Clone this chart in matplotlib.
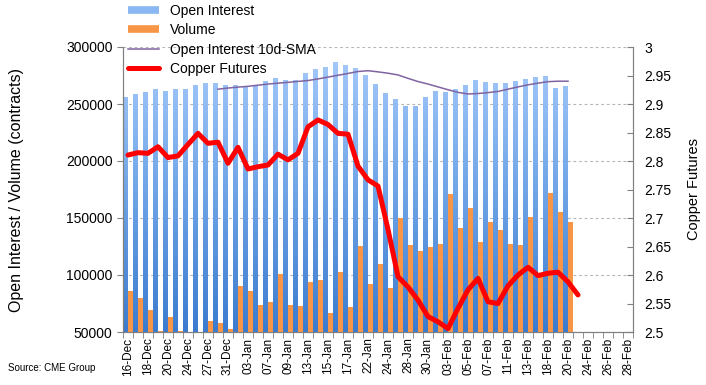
import numpy as np
import matplotlib
matplotlib.use("Agg")
import matplotlib.pyplot as plt
from matplotlib.lines import Line2D
from matplotlib.path import Path
from matplotlib.patches import PathPatch
from matplotlib.colors import LinearSegmentedColormap
from matplotlib.ticker import FuncFormatter

plt.rcParams['font.family'] = ['Liberation Sans', 'DejaVu Sans']

# trading days shown on the x axis
dates = ['16-Dec', '17-Dec', '18-Dec', '19-Dec', '20-Dec', '23-Dec', '24-Dec', '26-Dec', '27-Dec',
         '30-Dec', '31-Dec', '02-Jan', '03-Jan', '06-Jan', '07-Jan', '08-Jan', '09-Jan', '10-Jan',
         '13-Jan', '14-Jan', '15-Jan', '16-Jan', '17-Jan', '21-Jan', '22-Jan', '23-Jan', '24-Jan',
         '27-Jan', '28-Jan', '29-Jan', '30-Jan', '31-Jan', '03-Feb', '04-Feb', '05-Feb', '06-Feb',
         '07-Feb', '10-Feb', '11-Feb', '12-Feb', '13-Feb', '14-Feb', '18-Feb', '19-Feb', '20-Feb',
         '21-Feb', '24-Feb', '25-Feb', '26-Feb', '27-Feb', '28-Feb']

open_interest = [256100, 258800, 260500, 263200, 261400, 263200, 263200, 266700, 268400, 268400,
                 266700, 266700, 264900, 266700, 270200, 272800, 271000, 271000, 277200, 280700,
                 282500, 286800, 284200, 281600, 275500, 267500, 259600, 254400, 248300, 248300,
                 256100, 261400, 260500, 263200, 266700, 271000, 269300, 268400, 268400, 270200,
                 271900, 273700, 274600, 264000, 265800]

volume = [86000, 79800, 69300, 50900, 63200, 50900, 45000, 45000, 59600, 57900,
          52600, 90400, 86000, 73700, 76300, 100900, 73700, 72800, 93900, 95600,
          66700, 102600, 71900, 125400, 92100, 109600, 88600, 150000, 126300, 121100,
          124600, 127200, 171100, 141200, 158800, 128900, 146500, 139500, 127200, 126300,
          150900, 101000, 172000, 155300, 146500]

# 10d-SMA starts at the 10th session (31-Dec)
sma_start = 9
oi_sma = [263000, 264000, 264800, 265500, 266500, 267500, 268300, 269000, 269800, 270600,
          272000, 273600, 275200, 276800, 278500, 279200, 278200, 277000, 275500, 272500,
          269700, 267500, 265000, 262500, 260200, 258800, 259200, 260000, 261000, 263000,
          265000, 266800, 268300, 269600, 270000, 270000]

copper = [2.8105, 2.8146, 2.8135, 2.825, 2.806, 2.809, 2.829, 2.8485, 2.831, 2.833,
          2.796, 2.824, 2.786, 2.790, 2.793, 2.812, 2.802, 2.8135, 2.860, 2.872,
          2.864, 2.8485, 2.847, 2.791, 2.767, 2.756, 2.68, 2.597, 2.579, 2.556,
          2.527, 2.518, 2.506, 2.5415, 2.574, 2.594, 2.553, 2.550, 2.581, 2.600,
          2.6135, 2.599, 2.603, 2.605, 2.588, 2.565]

fig = plt.figure(figsize=(7.06, 3.85), dpi=100)
ax = fig.add_axes([123 / 706, 1 - 332 / 385, 510 / 706, 285 / 385])

n = len(dates)
x_oi = np.arange(len(open_interest))
blue_bars = ax.bar(x_oi - 0.23, open_interest, 0.46, color='none', edgecolor='none', zorder=2)
ax.bar(np.arange(len(volume)) + 0.23, volume, 0.46, color='#f79646', edgecolor='none', zorder=3)

# vertical gradient on the open interest bars
paths = []
for b in blue_bars:
    x0, y0 = b.get_xy()
    w, h = b.get_width(), b.get_height()
    paths.append(Path([(x0, y0), (x0 + w, y0), (x0 + w, y0 + h), (x0, y0 + h), (x0, y0)], closed=True))
clip = PathPatch(Path.make_compound_path(*paths), transform=ax.transData, facecolor='none', edgecolor='none')
ax.add_patch(clip)
cmap = LinearSegmentedColormap.from_list('oi', ['#3b7bcf', '#6ea3e6', '#a4c9fa'])
grad = np.linspace(0, 1, 256).reshape(-1, 1)
im = ax.imshow(grad, extent=[-0.5, n - 0.5, 50000, 290000], origin='lower', aspect='auto',
               cmap=cmap, zorder=2)
im.set_clip_path(clip)

ax.plot(np.arange(sma_start, sma_start + len(oi_sma)), oi_sma, color='#8064a2', lw=1.1, zorder=4)

ax.set_xlim(-0.5, n - 0.5)
ax.set_ylim(50000, 300000)
ax.set_yticks(np.arange(50000, 300001, 50000))
ax.yaxis.grid(True, color='#b5b5b5', linestyle=(0, (2.5, 2.5)), lw=0.8)
ax.set_axisbelow(True)

ax.set_xticks(np.arange(0, n, 2))
ax.set_xticklabels(dates[::2], rotation=90, fontsize=8.5)
ax.set_xticks(np.arange(-0.5, n, 1), minor=True)
ax.tick_params(axis='x', which='major', length=0, pad=4)
ax.tick_params(axis='x', which='minor', length=4, color='#808080', direction='out')
ax.tick_params(axis='y', labelsize=10, length=4, color='#808080', direction='out')
ax.set_ylabel('Open Interest / Volume (contracts)', fontsize=11.5)
ax.yaxis.set_label_coords(-0.194, 0.5)

for s in ['left', 'bottom', 'right']:
    ax.spines[s].set_color('#808080')
ax.spines['top'].set_visible(False)

ax2 = ax.twinx()
ax2.plot(np.arange(len(copper)), copper, color='#ff0000', lw=3.6, solid_joinstyle='round',
         solid_capstyle='round', zorder=5)
ax2.set_ylim(2.5, 3.0)
ax2.set_yticks(np.arange(2.5, 3.0001, 0.05))
ax2.yaxis.set_major_formatter(FuncFormatter(lambda v, p: '%g' % round(v, 2)))
ax2.tick_params(axis='y', labelsize=10, length=4, color='#808080', direction='in', pad=8)
ax2.set_ylabel('Copper Futures', fontsize=10.5)
ax2.yaxis.set_label_coords(1.106, 0.5)
for s in ['left', 'bottom', 'right']:
    ax2.spines[s].set_color('#808080')
ax2.spines['top'].set_visible(False)

handles = [Line2D([], [], color='#8ab8f2', lw=5.5, solid_capstyle='butt'),
           Line2D([], [], color='#f79646', lw=5.5, solid_capstyle='butt'),
           Line2D([], [], color='#8064a2', lw=1.1),
           Line2D([], [], color='#ff0000', lw=3.6, solid_capstyle='round')]
labels = ['Open Interest', 'Volume', 'Open Interest 10d-SMA', 'Copper Futures']
fig.legend(handles, labels, loc='upper left', bbox_to_anchor=(128 / 706, 1 - 4 / 385),
           frameon=False, fontsize=10, handlelength=2.2, handletextpad=0.8,
           labelspacing=0.38, borderpad=0, borderaxespad=0)

fig.text(8 / 706, 1 - 368 / 385, 'Source: CME Group', fontsize=7, va='center')

fig.savefig('out.png', dpi=100)
